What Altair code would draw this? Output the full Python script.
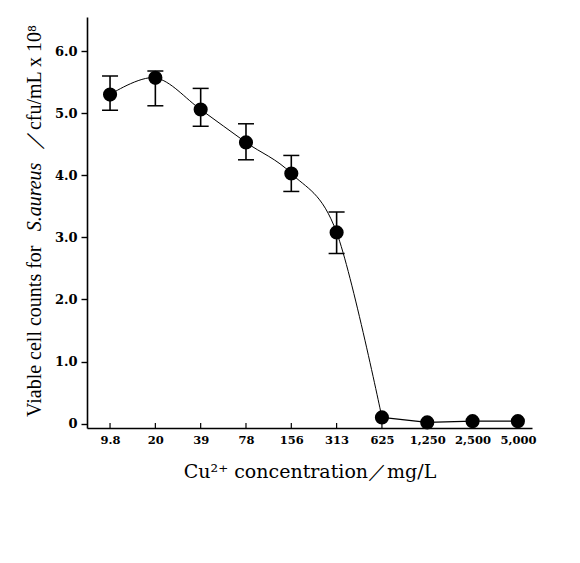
import altair as alt
import pandas as pd

# Cu2+ concentration (mg/L) categories and viable counts (x 10^8 cfu/mL)
conc = ["9.8", "20", "39", "78", "156", "313", "625", "1,250", "2,500", "5,000"]
counts = [5.30, 5.57, 5.06, 4.53, 4.03, 3.08, 0.10, 0.02, 0.04, 0.04]
err_low = [5.05, 5.12, 4.79, 4.25, 3.74, 2.74, None, None, None, None]
err_high = [5.60, 5.68, 5.40, 4.83, 4.32, 3.41, None, None, None, None]

df = pd.DataFrame({
    "conc": conc,
    "count": counts,
    "lo": err_low,
    "hi": err_high,
    "idx": list(range(len(conc))),
})

W, H = 445, 411
SERIF = "Liberation Serif"
LABEL_FONT = "DejaVu Serif"

x_enc = alt.X(
    "conc:O", sort=conc,
    scale=alt.Scale(type="point", padding=0.41, align=0.62),
    axis=alt.Axis(
        title="Cu²⁺ concentration／mg/L", titleFont=LABEL_FONT, titleFontSize=19,
        titleFontWeight="normal", titleColor="black", titlePadding=17,
        labelFont=LABEL_FONT, labelFontSize=11.5, labelFontWeight="bold",
        labelColor="black", labelAngle=0, labelPadding=6, ticks=False,
        domainColor="black", domainWidth=1.6,
    ),
)
y_scale = alt.Scale(domain=[-0.07, 6.55], nice=False, zero=False)
y_axis = alt.Axis(
    title=None, values=[0, 1, 2, 3, 4, 5, 6],
    labelExpr="datum.value == 0 ? '0' : format(datum.value, '.1f')",
    labelFont=LABEL_FONT, labelFontSize=13, labelFontWeight="bold",
    labelColor="black", labelPadding=4, tickSize=6, tickColor="black",
    tickWidth=1.4, domainColor="black", domainWidth=1.6, grid=False,
)

base = alt.Chart(df)

curve = base.transform_filter("datum.idx <= 6").mark_line(
    interpolate="cardinal", color="black", strokeWidth=1
).encode(x=x_enc, y=alt.Y("count:Q", scale=y_scale, axis=y_axis))

tail = base.transform_filter("datum.idx >= 6").mark_line(
    color="black", strokeWidth=1.2
).encode(x=x_enc, y=alt.Y("count:Q", scale=y_scale, axis=y_axis))

bars = base.transform_filter("isValid(datum.lo)").mark_rule(
    color="black", strokeWidth=1.6
).encode(x=x_enc, y=alt.Y("lo:Q", scale=y_scale, axis=y_axis), y2="hi:Q")

cap_lo = base.transform_filter("isValid(datum.lo)").mark_tick(
    color="black", size=16, thickness=1.5, opacity=1
).encode(x=x_enc, y=alt.Y("lo:Q", scale=y_scale, axis=y_axis))

cap_hi = base.transform_filter("isValid(datum.hi)").mark_tick(
    color="black", size=16, thickness=1.5, opacity=1
).encode(x=x_enc, y=alt.Y("hi:Q", scale=y_scale, axis=y_axis))

points = base.mark_circle(color="black", size=200, opacity=1).encode(
    x=x_enc, y=alt.Y("count:Q", scale=y_scale, axis=y_axis)
)

# small inward ticks on the x axis
xticks = base.mark_rule(color="black", strokeWidth=1.2).encode(
    x=x_enc, y=alt.value(H), y2=alt.value(H - 5)
)

# y title in three pieces so the species name can be italic
one = alt.Data(values=[{}])
title_a = alt.Chart(one).mark_text(
    angle=270, align="left", baseline="middle", font=SERIF, fontSize=20,
    color="black"
).encode(x=alt.value(-52), y=alt.value(400), text=alt.value("Viable cell counts for"))
title_b = alt.Chart(one).mark_text(
    angle=270, align="center", baseline="middle", font=SERIF, fontSize=20,
    fontStyle="italic", color="black"
).encode(x=alt.value(-52), y=alt.value(180), text=alt.value("S.aureus"))
title_c = alt.Chart(one).mark_text(
    angle=270, align="right", baseline="middle", font=SERIF, fontSize=20,
    color="black"
).encode(x=alt.value(-52), y=alt.value(8), text=alt.value("／cfu/mL x 10⁸"))

chart = alt.layer(
    curve, tail, bars, cap_lo, cap_hi, points, xticks, title_a, title_b, title_c
).properties(
    width=W, height=H, padding={"left": 17, "top": 9, "right": 10, "bottom": 10},
    background="white",
).configure_view(stroke=None)

chart.save("out.html", embed_options={"renderer": "svg", "actions": False})
